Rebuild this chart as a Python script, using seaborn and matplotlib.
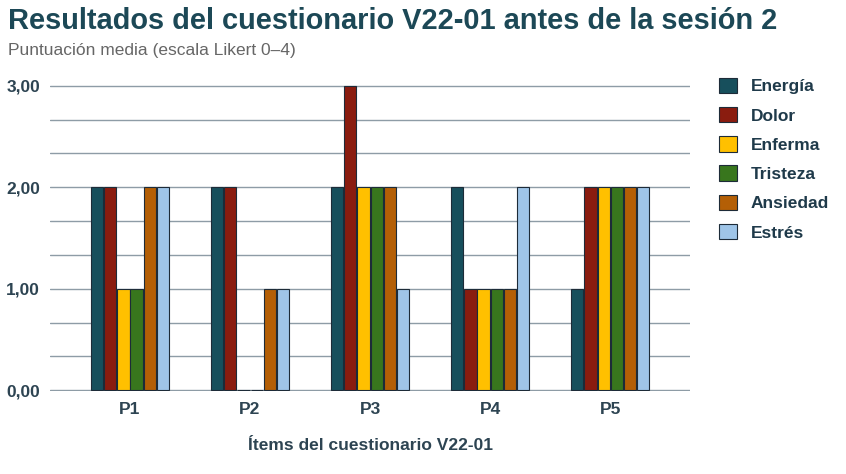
import pandas as pd
import numpy as np
import matplotlib.pyplot as plt
import seaborn as sns
from matplotlib.ticker import MultipleLocator

# datos del cuestionario
items = ["P1", "P2", "P3", "P4", "P5"]
series = ["Energía", "Dolor", "Enferma", "Tristeza", "Ansiedad", "Estrés"]
energia = [2, 2, 2, 2, 1]
dolor = [2, 2, 3, 1, 2]
enferma = [1, 0, 2, 1, 2]
tristeza = [1, 0, 2, 1, 2]
ansiedad = [2, 1, 2, 1, 2]
estres = [2, 1, 1, 2, 2]
ytick_vals = [0, 1, 2, 3]
ytick_labels = ["0,00", "1,00", "2,00", "3,00"]

colors = ["#174f5c", "#8a1c0f", "#ffc000", "#38761d", "#b45f06", "#9fc5e8"]

rows = []
for name, vals in zip(series, [energia, dolor, enferma, tristeza, ansiedad, estres]):
    for it, v in zip(items, vals):
        rows.append({"item": it, "serie": name, "valor": v})
df = pd.DataFrame(rows)

sns.set_style("white")
plt.rcParams['font.family'] = ['Liberation Sans', 'DejaVu Sans']

fig = plt.figure(figsize=(8.46, 4.74), dpi=100)
ax = fig.add_axes([0.059, 0.175, 0.757, 0.646])

sns.barplot(data=df, x="item", y="valor", hue="serie", palette=colors,
            saturation=1, width=0.66, gap=0.07, edgecolor="#1d2b38",
            linewidth=0.8, errorbar=None, ax=ax)

ax.set_ylim(-0.008, 3.008)
ax.set_xlim(-0.667, 4.667)
ax.set_yticks(ytick_vals)
ax.set_yticklabels(ytick_labels)
ax.yaxis.set_minor_locator(MultipleLocator(1 / 3))
ax.grid(axis="y", which="both", color="#8e9ca6", linewidth=1.0)
ax.set_axisbelow(True)
ax.tick_params(axis="both", which="both", length=0)
ax.tick_params(axis="y", pad=7)
ax.tick_params(axis="x", pad=8)
for lbl in ax.get_yticklabels() + ax.get_xticklabels():
    lbl.set_fontweight("bold")
    lbl.set_fontsize(12.5)
    lbl.set_color("#2d4452")
for s in ax.spines.values():
    s.set_visible(False)

ax.set_ylabel("")
ax.set_xlabel("Ítems del cuestionario V22-01", fontsize=12.5, fontweight="bold",
              color="#2d4452", labelpad=15)

ax.get_legend().remove()
handles, labels = ax.get_legend_handles_labels()
leg = fig.legend(handles, labels, loc="upper left", bbox_to_anchor=(0.832, 0.869),
                 frameon=False, fontsize=12.5, handlelength=1.0, handleheight=1.0,
                 labelspacing=0.72, handletextpad=0.8)
for t in leg.get_texts():
    t.set_fontweight("bold")
    t.set_color("#1f3a4a")

fig.text(0.009, 0.955, "Resultados del cuestionario V22-01 antes de la sesión 2",
         fontsize=20.9, fontweight="bold", color="#1c4856", va="center")
fig.text(0.009, 0.893, "Puntuación media (escala Likert 0–4)",
         fontsize=12.5, color="#666666", va="center")

fig.savefig("out.png", dpi=100)
